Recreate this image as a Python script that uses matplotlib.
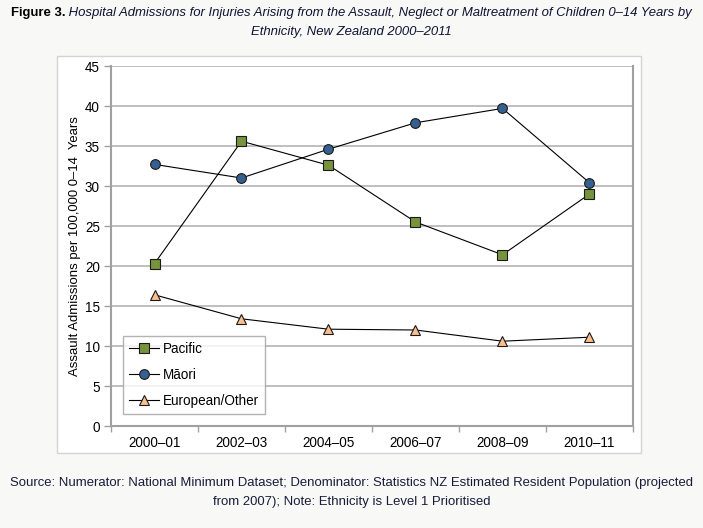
import matplotlib
matplotlib.use("Agg")
import matplotlib.pyplot as plt
from matplotlib.patches import Rectangle

plt.rcParams['font.family'] = ['Liberation Sans', 'DejaVu Sans']

categories = ["2000–01", "2002–03", "2004–05", "2006–07", "2008–09", "2010–11"]
pacific = [20.3, 35.6, 32.6, 25.5, 21.4, 29.0]
maori = [32.7, 31.0, 34.6, 37.9, 39.7, 30.4]
european = [16.4, 13.4, 12.1, 12.0, 10.6, 11.1]
yticks = [0, 5, 10, 15, 20, 25, 30, 35, 40, 45]

W, H = 703, 528
FS = 9.45
fig = plt.figure(figsize=(W/100, H/100), dpi=100)
fig.patch.set_facecolor('#f8f9f6')

# white chart area
fig.patches.append(Rectangle((57/W, 1-453/H), (641-57)/W, (453-56)/H,
                             transform=fig.transFigure, facecolor='white',
                             edgecolor='#d4d4d4', linewidth=1, zorder=-10))

ax = fig.add_axes([111/W, 1-426/H, (633-111)/W, (426-66)/H])
ax.set_facecolor('white')
x = list(range(len(categories)))
line_kw = dict(color='black', linewidth=0.8, markeredgecolor='#1a1a1a', markeredgewidth=0.8)
ax.plot(x, pacific, marker='s', markersize=6.5, markerfacecolor='#77933c', label='Pacific', **line_kw)
ax.plot(x, maori, marker='o', markersize=7, markerfacecolor='#36608f', label='Māori', **line_kw)
ax.plot(x, european, marker='^', markersize=7.5, markerfacecolor='#f9bf8f', label='European/Other', **line_kw)

ax.set_xlim(-0.5, len(categories)-0.5)
ax.set_ylim(0, 45)
ax.set_yticks(yticks)
ax.set_xticks(x)
ax.set_xticklabels(categories)
ax.set_xticks([i-0.5 for i in range(len(categories)+1)], minor=True)
ax.tick_params(axis='x', which='major', length=0, pad=7, labelsize=FS+0.3)
ax.tick_params(axis='x', which='minor', length=4, color='#a0a0a0', width=1, direction='out')
ax.tick_params(axis='y', length=5, color='#a0a0a0', width=1, pad=3, labelsize=FS+0.3)
ax.yaxis.grid(True, color='#b4b4b4', linewidth=1.2)
ax.set_axisbelow(True)
for s in ['left', 'bottom', 'right']:
    ax.spines[s].set_color('#a0a0a0')
    ax.spines[s].set_linewidth(1.5)
ax.spines['top'].set_visible(False)

ax.set_ylabel("Assault Admissions per 100,000 0–14  Years", fontsize=FS, labelpad=3)

leg = ax.legend(loc='lower left', bbox_to_anchor=((123-111)/(633-111), (426-414)/360),
                frameon=True, fancybox=False, fontsize=FS+0.3, handlelength=2.2,
                borderpad=0.45, labelspacing=0.88, handletextpad=0.3, borderaxespad=0)
leg.get_frame().set_edgecolor('#a0a0a0')
leg.get_frame().set_linewidth(1)

# title
fig.canvas.draw()
r = fig.canvas.get_renderer()
t1 = fig.text(0, 1-13/H, "Figure 3.", fontsize=FS, fontweight='bold', ha='left', va='center')
t2 = fig.text(0, 1-13/H, " Hospital Admissions for Injuries Arising from the Assault, Neglect or Maltreatment of Children 0–14 Years by",
              fontsize=FS, style='italic', ha='left', va='center', color='#111133')
w1 = t1.get_window_extent(r).width
w2 = t2.get_window_extent(r).width
start = (W - (w1 + w2)) / 2
t1.set_x(start / W)
t2.set_x((start + w1) / W)
fig.text(0.5, 1-32/H, "Ethnicity, New Zealand 2000–2011", fontsize=FS, style='italic',
         ha='center', va='center', color='#111133')

fig.text(0.5, 1-483/H, "Source: Numerator: National Minimum Dataset; Denominator: Statistics NZ Estimated Resident Population (projected",
         fontsize=FS, ha='center', va='center', color='#1a1a3a')
fig.text(0.5, 1-502/H, "from 2007); Note: Ethnicity is Level 1 Prioritised",
         fontsize=FS, ha='center', va='center', color='#1a1a3a')

fig.savefig("out.png", dpi=100, facecolor=fig.get_facecolor())
